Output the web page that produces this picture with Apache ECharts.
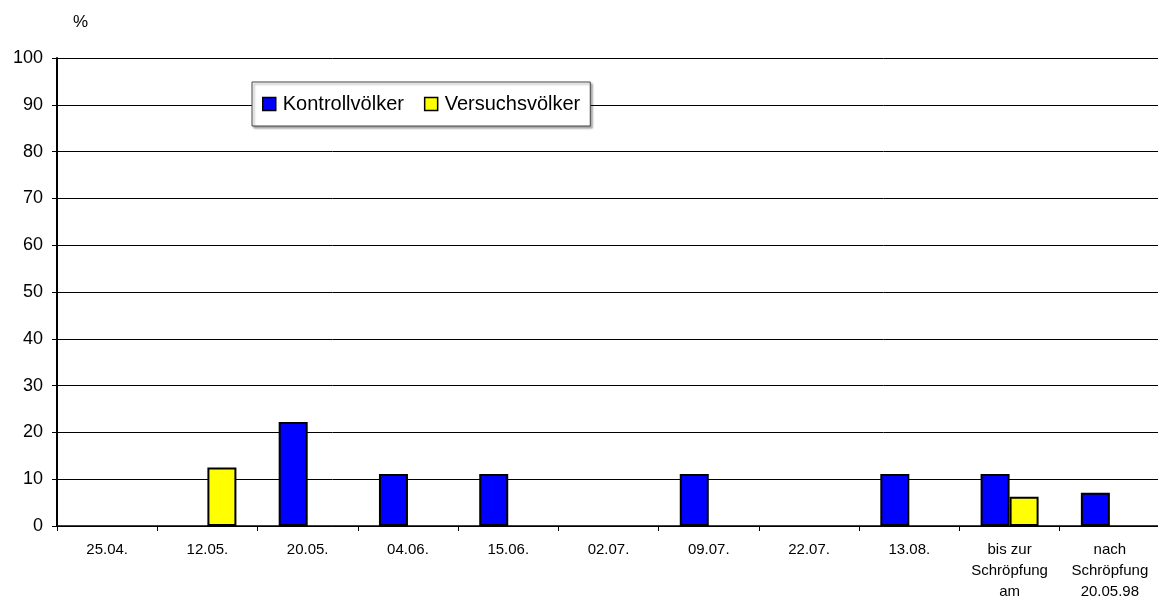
<!DOCTYPE html>
<html>
<head>
<meta charset="utf-8">
<script src="https://cdn.jsdelivr.net/npm/echarts@6/dist/echarts.min.js"></script>
<style>
  html, body { margin: 0; padding: 0; background: #fff; }
  #chart { width: 1158px; height: 596px; }
</style>
</head>
<body>
<div id="chart"></div>
<script>
// Sampling dates and the two colony groups (values in %)
const categories = ['25.04.', '12.05.', '20.05.', '04.06.', '15.06.', '02.07.', '09.07.', '22.07.', '13.08.',
  'bis zur\nSchröpfung\nam', 'nach\nSchröpfung\n20.05.98'];
const kontrollvoelker = [null, null, 22.2, 11.1, 11.1, null, 11.1, null, 11.1, 11.1, 7.1];
const versuchsvoelker = [null, 12.5, null, null, null, null, null, null, null, 6.25, null];
const seriesNames = ['Kontrollvölker', 'Versuchsvölker'];
const yTicks = { min: 0, max: 100, interval: 10 };

const font = 'Liberation Sans, Arial, sans-serif';
const chart = echarts.init(document.getElementById('chart'), null, { renderer: 'canvas' });

chart.setOption({
  animation: false,
  backgroundColor: '#fff',
  textStyle: { fontFamily: font, color: '#000' },
  title: {
    text: '%',
    left: 73,
    top: 14,
    padding: 0,
    textStyle: { fontFamily: font, fontSize: 17, fontWeight: 'normal', color: '#000' }
  },
  legend: {
    left: 252,
    top: 82,
    padding: [12, 10],
    itemWidth: 13,
    itemHeight: 13,
    itemGap: 20,
    icon: 'rect',
    backgroundColor: '#fff',
    borderColor: '#444',
    borderWidth: 1,
    shadowColor: 'rgba(0,0,0,0.35)',
    shadowOffsetX: 2,
    shadowOffsetY: 2,
    shadowBlur: 2,
    itemStyle: { borderColor: '#000', borderWidth: 1.5 },
    textStyle: { fontFamily: font, fontSize: 20, color: '#000', padding: [0, 0, 0, 2] },
    data: seriesNames
  },
  grid: {
    left: 57,
    top: 58,
    width: 1103,
    height: 468,
    containLabel: false,
    outerBoundsMode: 'none'
  },
  xAxis: {
    type: 'category',
    data: categories,
    axisLine: { lineStyle: { color: '#000', width: 1.5 } },
    axisTick: { show: true, alignWithLabel: false, length: 5, lineStyle: { color: '#000' } },
    axisLabel: {
      interval: 0,
      margin: 13,
      fontFamily: font,
      fontSize: 15,
      lineHeight: 21,
      color: '#000'
    },
    splitLine: { show: false }
  },
  yAxis: {
    type: 'value',
    min: yTicks.min,
    max: yTicks.max,
    interval: yTicks.interval,
    axisLine: { show: true, lineStyle: { color: '#000', width: 2 } },
    axisTick: { show: true, length: 5, lineStyle: { color: '#000' } },
    axisLabel: { margin: 14, fontFamily: font, fontSize: 18, color: '#000' },
    splitLine: { show: true, lineStyle: { color: '#000', width: 1 } }
  },
  series: [
    {
      name: seriesNames[0],
      type: 'bar',
      data: kontrollvoelker,
      barWidth: 29,
      barGap: '0%',
      itemStyle: { color: '#0000ff', borderColor: '#000', borderWidth: 2 }
    },
    {
      name: seriesNames[1],
      type: 'bar',
      data: versuchsvoelker,
      barWidth: 29,
      barGap: '0%',
      itemStyle: { color: '#ffff00', borderColor: '#000', borderWidth: 2 }
    }
  ]
});
</script>
</body>
</html>
